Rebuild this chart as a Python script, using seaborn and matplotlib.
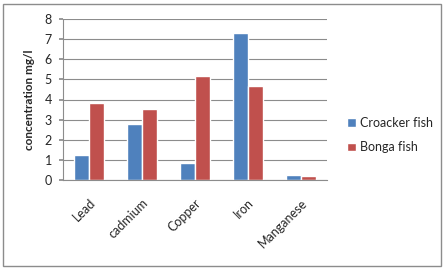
import matplotlib
matplotlib.use("Agg")
import matplotlib.pyplot as plt
import seaborn as sns
import pandas as pd
from matplotlib.patches import Rectangle

categories = ["Lead", "cadmium", "Copper", "Iron", "Manganese"]
croaker = [1.25, 2.78, 0.85, 7.28, 0.23]
bonga = [3.82, 3.53, 5.15, 4.67, 0.18]
series_names = ["Croacker fish", "Bonga fish"]
yticks = [0, 1, 2, 3, 4, 5, 6, 7, 8]

df = pd.DataFrame({
    "metal": categories * 2,
    "value": croaker + bonga,
    "fish": [series_names[0]] * len(categories) + [series_names[1]] * len(categories),
})

sns.set_theme(style="white")
plt.rcParams["font.family"] = ["Lato", "DejaVu Sans"]

fig = plt.figure(figsize=(4.45, 2.69), dpi=100)
ax = fig.add_axes([63 / 445, 1 - 180 / 269, (327 - 63) / 445, (180 - 19) / 269])

palette = {series_names[0]: "#4F81BD", series_names[1]: "#C0504D"}
sns.barplot(data=df, x="metal", y="value", hue="fish", palette=palette,
            width=0.57, ax=ax, saturation=1, legend=True)

ax.set_ylim(0, 8)
ax.set_yticks(yticks)
ax.set_yticklabels([str(t) for t in yticks], fontsize=9)
ax.set_xlim(-0.5, len(categories) - 0.5)
ax.yaxis.grid(True, color="#8c8c8c", linewidth=0.8)
ax.set_axisbelow(True)
for s in ["top", "right"]:
    ax.spines[s].set_visible(False)
ax.spines["left"].set_color("#8c8c8c")
ax.spines["bottom"].set_color("#8c8c8c")
ax.spines["left"].set_linewidth(0.8)
ax.spines["bottom"].set_linewidth(0.8)
ax.tick_params(axis="y", which="both", left=True, length=3, color="#8c8c8c", pad=5)
ax.tick_params(axis="x", length=0, pad=12)
ax.set_xticks(range(len(categories)))
ax.set_xticklabels(categories, rotation=45, ha="right", rotation_mode="anchor", fontsize=9)
ax.set_xlabel("")
ax.set_ylabel("concentration mg/l", fontsize=8.5, fontweight="bold", labelpad=7)

leg = ax.legend(loc="center left", bbox_to_anchor=(336 / 445, 1 - 135 / 269),
                bbox_transform=fig.transFigure, frameon=False, fontsize=9,
                handlelength=0.7, handleheight=0.7, handletextpad=0.3, labelspacing=1.0)

fig.patches.append(Rectangle((3 / 445, 3 / 269), 438 / 445, 262 / 269, transform=fig.transFigure,
                             fill=False, edgecolor="#8c8c8c", linewidth=1))

fig.savefig("out.png", dpi=100)
